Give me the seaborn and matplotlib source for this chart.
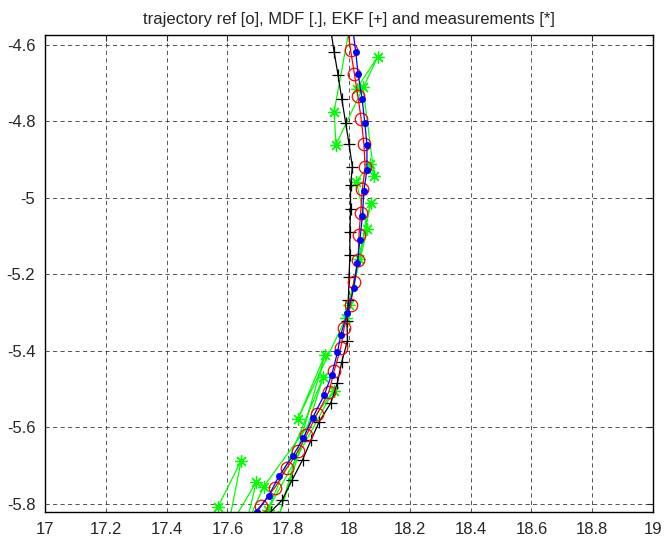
import numpy as np
import pandas as pd
import matplotlib
matplotlib.use('Agg')
from matplotlib import pyplot as plt
import seaborn as sns

# reference trajectory [o]
ref_x = [17.995, 18.005, 18.018, 18.029, 18.040, 18.049, 18.053, 18.044, 18.038, 18.033, 18.030, 18.016,
         18.005, 17.984, 17.973, 17.951, 17.934, 17.895, 17.860, 17.833, 17.795, 17.756, 17.709, 17.660]
ref_y = [-4.555, -4.613, -4.677, -4.734, -4.793, -4.859, -4.920, -4.976, -5.040, -5.096, -5.162, -5.219,
         -5.281, -5.339, -5.391, -5.453, -5.507, -5.565, -5.620, -5.662, -5.707, -5.757, -5.805, -5.850]

# MDF estimate [.]
mdf_x = [18.012, 18.022, 18.030, 18.043, 18.052, 18.059, 18.059, 18.049, 18.044, 18.036, 18.027, 18.016,
         17.995, 17.973, 17.962, 17.943, 17.918, 17.880, 17.850, 17.815, 17.769, 17.736, 17.698]
mdf_y = [-4.555, -4.618, -4.677, -4.740, -4.804, -4.861, -4.926, -4.981, -5.047, -5.109, -5.171, -5.235,
         -5.300, -5.357, -5.404, -5.462, -5.516, -5.575, -5.628, -5.674, -5.728, -5.778, -5.820]

# EKF estimate [+]
ekf_x = [17.939, 17.951, 17.964, 17.976, 17.989, 18.000, 18.011, 18.005, 18.005, 18.003, 18.003, 18.000,
         17.998, 17.993, 17.995, 17.976, 17.962, 17.940, 17.902, 17.875, 17.847, 17.813, 17.780, 17.743]
ekf_y = [-4.555, -4.618, -4.679, -4.740, -4.804, -4.859, -4.918, -4.967, -5.029, -5.089, -5.149, -5.206,
         -5.266, -5.321, -5.373, -5.429, -5.483, -5.536, -5.585, -5.633, -5.685, -5.737, -5.790, -5.820]

# measurements [*]
meas_x = [17.568, 17.645, 17.600, 17.695, 17.660, 17.719, 17.949, 17.732, 17.916, 17.768, 17.921, 17.831, 17.989,
          18.071, 18.033, 18.000, 18.060, 18.024, 18.068, 18.083, 18.046, 18.025, 18.094, 17.957, 17.951, 18.005]
meas_y = [-5.809, -5.687, -5.870, -5.742, -5.860, -5.755, -5.504, -5.817, -5.467, -5.835, -5.410, -5.579, -5.315,
          -5.014, -5.160, -5.281, -5.082, -4.957, -4.911, -4.942, -4.711, -4.714, -4.632, -4.861, -4.774, -4.540]

xticks = [17, 17.2, 17.4, 17.6, 17.8, 18, 18.2, 18.4, 18.6, 18.8, 19]
xtick_labels = ['17', '17.2', '17.4', '17.6', '17.8', '18', '18.2', '18.4', '18.6', '18.8', '19']
yticks = [-5.8, -5.6, -5.4, -5.2, -5, -4.8, -4.6]
ytick_labels = ['-5.8', '-5.6', '-5.4', '-5.2', '-5', '-4.8', '-4.6']

sns.set_style('white')
plt.rcParams['font.family'] = ['Liberation Sans', 'DejaVu Sans']
plt.rcParams['axes.unicode_minus'] = False

fig = plt.figure(figsize=(6.66, 5.41), dpi=100)
ax = fig.add_axes([0.0676, 0.0536, 0.9129, 0.8817])

lw = 0.9
sns.lineplot(x=meas_x, y=meas_y, sort=False, estimator=None, ax=ax, color='#00ff00', linewidth=lw,
             marker=(8, 2, 0), markersize=9, markeredgecolor='#00ff00', markeredgewidth=0.9)
sns.lineplot(x=ekf_x, y=ekf_y, sort=False, estimator=None, ax=ax, color='black', linewidth=lw,
             marker='+', markersize=8, markeredgecolor='black', markeredgewidth=0.9)
sns.lineplot(x=ref_x, y=ref_y, sort=False, estimator=None, ax=ax, color='red', linewidth=lw,
             marker='o', markersize=9, markerfacecolor='none', markeredgecolor='red', markeredgewidth=0.9)
sns.lineplot(x=mdf_x, y=mdf_y, sort=False, estimator=None, ax=ax, color='blue', linewidth=lw,
             marker='o', markersize=4.5, markerfacecolor='blue', markeredgecolor='blue', markeredgewidth=0.5)

ax.set_xlim(17, 19)
ax.set_ylim(-5.821, -4.574)
ax.set_xticks(xticks)
ax.set_xticklabels(xtick_labels)
ax.set_yticks(yticks)
ax.set_yticklabels(ytick_labels)
ax.tick_params(direction='in', top=True, right=True, length=4, width=0.8, labelsize=12, pad=7)
ax.grid(True, color='#3a3a3a', linestyle=(0, (5, 4)), linewidth=0.6)
ax.set_axisbelow(True)
for s in ax.spines.values():
    s.set_color('black')
    s.set_linewidth(1.0)
ax.set_xlabel('')
ax.set_ylabel('')
ax.set_title('trajectory ref [o], MDF [.], EKF [+] and measurements [*]', fontsize=12, pad=8)

plt.savefig('out.png', dpi=100)
